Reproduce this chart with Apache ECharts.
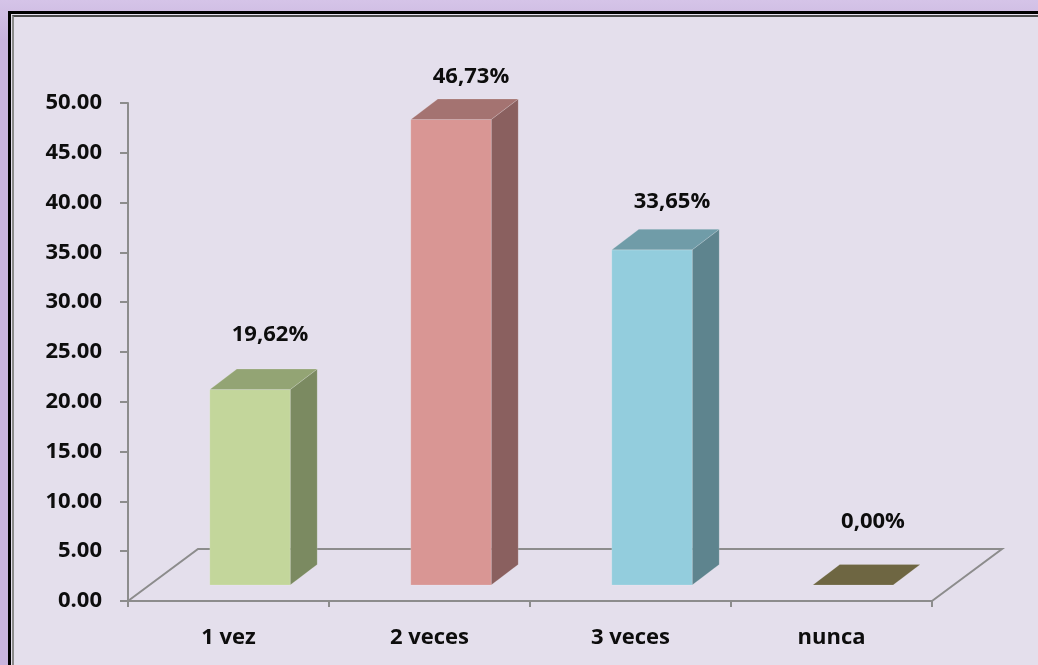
<!DOCTYPE html>
<html>
<head>
<meta charset="utf-8">
<script src="https://cdn.jsdelivr.net/npm/echarts@6/dist/echarts.min.js"></script>
<style>
  html, body { margin: 0; padding: 0; }
  .page {
    position: relative;
    width: 1038px;
    height: 665px;
    overflow: hidden;
    background: linear-gradient(#d5c4e8, #c8b4dd 40px, #c8b4dd);
  }
  .frame {
    position: absolute;
    left: 8px;
    top: 11px;
    width: 1060px;
    height: 680px;
    border: 3px solid #000;
    background: #e4dfec;
  }
  .frame .inner {
    position: absolute;
    left: 1px;
    top: 1px;
    right: 0;
    bottom: 0;
    border-top: 2px solid #4a4a4a;
    border-left: 2px solid #8a8a8a;
  }
  #chart {
    position: absolute;
    left: 0;
    top: 0;
    width: 1038px;
    height: 665px;
  }
</style>
</head>
<body>
<div class="page">
  <div class="frame"><div class="inner"></div></div>
  <div id="chart"></div>
</div>
<script>
// datos
const categorias = ['1 vez', '2 veces', '3 veces', 'nunca']
const porcentajes = [19.62, 46.73, 33.65, 0]
const ticksY = { min: 0, max: 50, interval: 5 }

// colores de cada barra: frente, techo, lado
const colores = [
  { front: '#c3d69b', top: '#93a474', side: '#7b8a61' },
  { front: '#d99694', top: '#a47371', side: '#8a605f' },
  { front: '#93cddd', top: '#709ca8', side: '#5e848e' },
  { front: '#7f7a4c', top: '#6e6642', side: '#5c5638' }
]

const fuente = '"Open Sans", Lato, sans-serif'
const gris = '#8c8c8c'

const chart = echarts.init(document.getElementById('chart'), null, { renderer: 'canvas' })

// profundidad del piso y de las barras
const piso = { dx: 70, dy: -52 }
const barraOff = { dx: 21.5, dy: -16 }
const barraProf = { dx: 27, dy: -20.5 }

const option = {
  animation: false,
  backgroundColor: 'transparent',
  grid: { left: 128, right: 106, top: 103, bottom: 64 },
  xAxis: {
    type: 'category',
    data: categorias,
    axisLine: { lineStyle: { color: gris, width: 2 } },
    axisTick: { show: true, length: 6, lineStyle: { color: gris, width: 2 } },
    axisLabel: {
      margin: 26,
      color: '#0d0d0d',
      fontFamily: fuente,
      fontWeight: 'bold',
      fontSize: 22
    }
  },
  yAxis: {
    type: 'value',
    min: ticksY.min,
    max: ticksY.max,
    interval: ticksY.interval,
    axisLine: { show: true, lineStyle: { color: gris, width: 2 } },
    axisTick: { show: true, length: 8, lineStyle: { color: gris, width: 2 } },
    splitLine: { show: false },
    axisLabel: {
      margin: 26,
      color: '#0d0d0d',
      fontFamily: fuente,
      fontWeight: 'bold',
      fontSize: 22,
      formatter: v => v.toFixed(2)
    }
  },
  series: [
    {
      // piso 3D
      type: 'custom',
      data: [0],
      silent: true,
      z: 1,
      renderItem: (params, api) => {
        const ancho = api.size([1, 0])[0]
        const a = api.coord([0, 0])
        const b = api.coord([categorias.length - 1, 0])
        const x0 = a[0] - ancho / 2
        const x1 = b[0] + ancho / 2
        const y0 = a[1]
        return {
          type: 'polyline',
          shape: {
            points: [
              [x0, y0],
              [x0 + piso.dx, y0 + piso.dy],
              [x1 + piso.dx, y0 + piso.dy],
              [x1, y0]
            ]
          },
          style: { stroke: gris, lineWidth: 2, fill: null }
        }
      }
    },
    {
      // barras 3D
      type: 'custom',
      data: porcentajes.map((v, i) => [i, v]),
      z: 2,
      renderItem: (params, api) => {
        const i = api.value(0)
        const v = api.value(1)
        const base = api.coord([i, 0])
        const tope = api.coord([i, v])
        const bw = api.size([1, 0])[0] * 0.4
        const fx = base[0] + barraOff.dx - bw / 2
        const fb = base[1] + barraOff.dy
        const ft = tope[1] + barraOff.dy
        const dx = barraProf.dx
        const dy = barraProf.dy
        const c = colores[i]
        const children = []
        if (fb - ft > 0.5) {
          children.push({
            type: 'polygon',
            shape: { points: [[fx + bw, ft], [fx + bw + dx, ft + dy], [fx + bw + dx, fb + dy], [fx + bw, fb]] },
            style: { fill: c.side, stroke: 'rgba(255,255,255,0.15)', lineWidth: 1 }
          })
          children.push({
            type: 'rect',
            shape: { x: fx, y: ft, width: bw, height: fb - ft },
            style: { fill: c.front, stroke: 'rgba(255,255,255,0.15)', lineWidth: 1 }
          })
        }
        children.push({
          type: 'polygon',
          shape: { points: [[fx, ft], [fx + dx, ft + dy], [fx + bw + dx, ft + dy], [fx + bw, ft]] },
          style: { fill: c.top, stroke: 'rgba(255,255,255,0.15)', lineWidth: 1 }
        })
        // etiqueta de valor
        children.push({
          type: 'text',
          style: {
            x: fx + bw / 2 + 20,
            y: ft * 0.955 - 37,
            text: v.toFixed(2).replace('.', ',') + '%',
            align: 'center',
            verticalAlign: 'middle',
            fill: '#0d0d0d',
            font: 'bold 22px ' + fuente
          }
        })
        return { type: 'group', children }
      }
    }
  ]
}

chart.setOption(option)
</script>
</body>
</html>
